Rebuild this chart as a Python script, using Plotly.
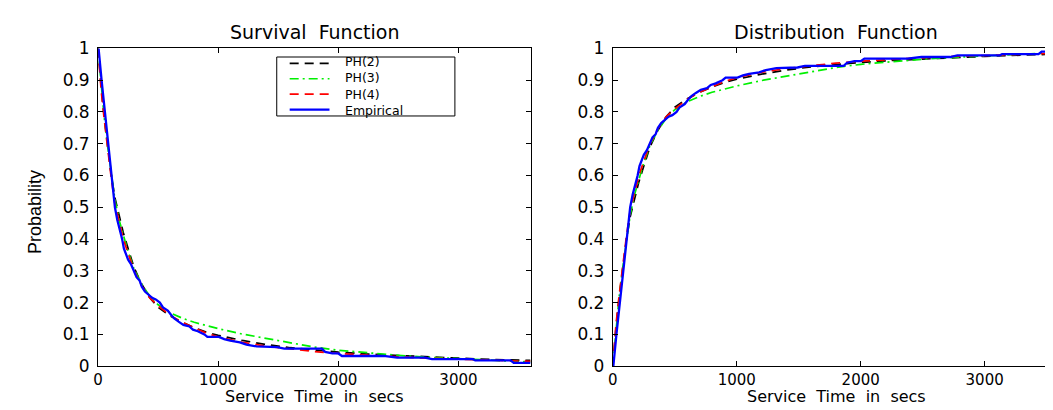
import plotly.graph_objects as go

# ---------------- data ----------------
X_FIT = [0, 25, 50, 80, 110, 140, 175, 210, 250, 300, 360, 430, 500, 600, 700,
         800, 900, 1000, 1200, 1400, 1600, 1800, 2000, 2250, 2500, 2750, 3000,
         3300, 3600]
S_PH2 = [1.0, 0.88, 0.79, 0.69, 0.60, 0.53, 0.47, 0.42, 0.37, 0.31, 0.26, 0.215,
         0.185, 0.158, 0.138, 0.121, 0.107, 0.097, 0.081, 0.068, 0.058, 0.050,
         0.044, 0.038, 0.033, 0.028, 0.025, 0.021, 0.018]
S_PH3 = [1.0, 0.88, 0.785, 0.69, 0.60, 0.525, 0.46, 0.41, 0.36, 0.305, 0.26, 0.22,
         0.193, 0.168, 0.151, 0.138, 0.127, 0.118, 0.101, 0.087, 0.072, 0.060,
         0.050, 0.041, 0.034, 0.028, 0.023, 0.017, 0.013]
S_PH4 = [1.0, 0.87, 0.78, 0.68, 0.59, 0.51, 0.45, 0.40, 0.355, 0.30, 0.255, 0.215,
         0.19, 0.16, 0.138, 0.12, 0.104, 0.092, 0.075, 0.063, 0.054, 0.046, 0.040,
         0.034, 0.029, 0.025, 0.022, 0.018, 0.015]

X_EMP = [0, 4, 29, 57, 85, 100, 115, 128, 140, 160, 175, 200, 215, 232, 250, 275,
         299, 320, 345, 364, 390, 420, 450, 480, 514, 540, 580, 610, 634, 670, 710,
         760, 790, 830, 860, 885, 910, 1006, 1050, 1100, 1180, 1235, 1320, 1490,
         1550, 1863, 1890, 1950, 2000, 2030, 2377, 2490, 2720, 2780, 3120, 3140,
         3434, 3460, 3600]
S_EMP = [1.0, 1.0, 0.9, 0.8, 0.7, 0.65, 0.6, 0.55, 0.5, 0.46, 0.44, 0.4, 0.37,
         0.35, 0.335, 0.32, 0.3, 0.28, 0.27, 0.25, 0.235, 0.225, 0.215, 0.21, 0.2,
         0.185, 0.175, 0.16, 0.15, 0.14, 0.13, 0.125, 0.115, 0.11, 0.105, 0.1,
         0.092, 0.092, 0.085, 0.08, 0.075, 0.068, 0.062, 0.06, 0.055, 0.055, 0.045,
         0.04, 0.04, 0.032, 0.032, 0.027, 0.027, 0.022, 0.022, 0.018, 0.018, 0.01,
         0.01]

SERIES = ["PH(2)", "PH(3)", "PH(4)", "Empirical"]
COLORS = ["#000000", "#00f000", "#ff0000", "#0000ff"]
DASHES = ["9px,6px", "9px,4px,2px,4px", "9px,6px", "solid"]
WIDTHS = [1.7, 1.7, 1.7, 2.3]

X_TICKS = [0, 1000, 2000, 3000]
Y_TICKS = [0, 0.1, 0.2, 0.3, 0.4, 0.5, 0.6, 0.7, 0.8, 0.9, 1]

# ---------------- figure ----------------
W, H = 1053, 410
FONT = "DejaVu Sans"

fig = go.Figure()

xs = [X_FIT, X_FIT, X_FIT, X_EMP]
ss = [S_PH2, S_PH3, S_PH4, S_EMP]
for name, x, s, c, d, w in zip(SERIES, xs, ss, COLORS, DASHES, WIDTHS):
    fig.add_trace(go.Scatter(x=x, y=s, mode="lines", name=name, showlegend=False,
                             line=dict(color=c, dash=d, width=w),
                             xaxis="x", yaxis="y"))
for name, x, s, c, d, w in zip(SERIES, xs, ss, COLORS, DASHES, WIDTHS):
    fig.add_trace(go.Scatter(x=x, y=[1 - v for v in s], mode="lines", name=name,
                             showlegend=False,
                             line=dict(color=c, dash=d, width=w),
                             xaxis="x2", yaxis="y2"))

def px(v):
    return v / W

def py(v):
    return 1 - v / H

axis_common = dict(showline=True, linecolor="black", linewidth=1, mirror="ticks",
                   ticks="inside", ticklen=5, tickcolor="black", showgrid=False,
                   zeroline=False)
yfont = dict(family=FONT, size=17, color="black")
xfont = dict(family=FONT, size=15, color="black")

ydom = [py(366), py(32)]
fig.update_layout(
    width=W, height=H, margin=dict(l=0, r=0, t=0, b=0),
    paper_bgcolor="white", plot_bgcolor="white",
    xaxis=dict(domain=[px(85.5), px(520)], range=[0, 3600], tickvals=X_TICKS,
               anchor="y", tickfont=xfont, **axis_common),
    yaxis=dict(domain=ydom, range=[0, 1], tickvals=Y_TICKS, anchor="x",
               ticklabelstandoff=4, tickfont=yfont, **axis_common),
    xaxis2=dict(domain=[px(602.7), px(1051)], range=[0, 3600], tickvals=X_TICKS,
                anchor="y2", tickfont=xfont, **axis_common),
    yaxis2=dict(domain=ydom, range=[0, 1], tickvals=Y_TICKS, anchor="x2",
                ticklabelstandoff=4, tickfont=yfont, **axis_common),
)

ann = []
def text(t, x, y, size, angle=0, yanchor="middle", family=FONT):
    ann.append(dict(text=t, x=px(x), y=py(y), xref="paper", yref="paper",
                    showarrow=False, xanchor="center", yanchor=yanchor,
                    textangle=angle, font=dict(family=family, size=size, color="black")))

text("Survival  Function", 303, 15, 19)
text("Distribution  Function", 827, 15, 19)
text("Service  Time  in  secs", 303, 410, 16, yanchor="bottom")
text("Service  Time  in  secs", 827, 410, 16, yanchor="bottom")
text("Probability", 22, 204, 18, angle=-90, family="Liberation Sans")

# legend (drawn in paper coordinates)
shapes = [dict(type="rect", xref="paper", yref="paper", x0=px(265), x1=px(444),
               y0=py(103), y1=py(41), line=dict(color="black", width=1),
               fillcolor="white", layer="above")]
LEG_SIZE = 12.5
line_h = 1.3 * LEG_SIZE
rows = [72 + (i - 1.5) * line_h for i in range(4)]
for c, d, w, ry in zip(COLORS, DASHES, WIDTHS, rows):
    shapes.append(dict(type="line", xref="paper", yref="paper", x0=px(278), x1=px(318),
                       y0=py(ry), y1=py(ry), line=dict(color=c, dash=d, width=w),
                       layer="above"))
ann.append(dict(text="<br>".join(SERIES), x=px(332), y=py(72), xref="paper",
                yref="paper", showarrow=False, xanchor="left", yanchor="middle",
                align="left", font=dict(family=FONT, size=LEG_SIZE, color="black")))

fig.update_layout(annotations=ann, shapes=shapes)
fig.write_html("out.html")
